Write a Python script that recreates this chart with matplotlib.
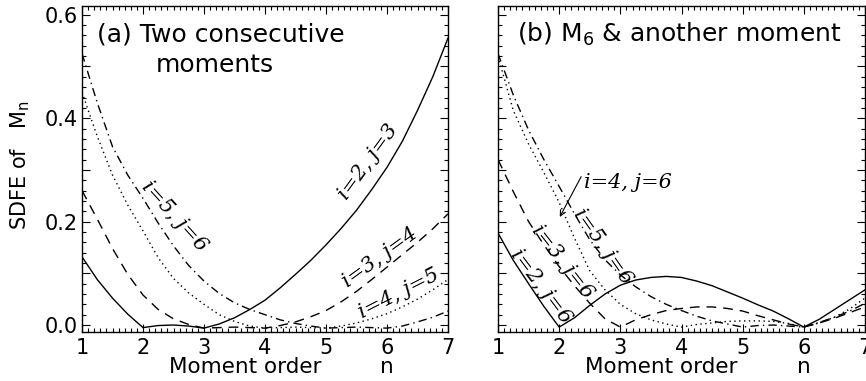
import matplotlib
matplotlib.use("Agg")
import matplotlib.pyplot as plt
from matplotlib.ticker import MultipleLocator

# --- data ---
n_order = [1, 1.25, 1.5, 1.75, 2, 2.25, 2.5, 2.75, 3, 3.25, 3.5, 3.75, 4,
           4.25, 4.5, 4.75, 5, 5.25, 5.5, 5.75, 6, 6.25, 6.5, 6.75, 7]

# panel (a): two consecutive moments
a_i2_j3 = [0.132, 0.088, 0.052, 0.021, -0.005, -0.001, 0.000, -0.002, -0.006, 0.002,
           0.014, 0.030, 0.048, 0.072, 0.098, 0.125, 0.155, 0.187, 0.222, 0.262,
           0.305, 0.355, 0.415, 0.480, 0.555]
a_i3_j4 = [0.260, 0.205, 0.148, 0.098, 0.058, 0.030, 0.012, 0.001, -0.006, -0.005,
           -0.004, -0.005, -0.006, -0.001, 0.006, 0.016, 0.028, 0.045, 0.065, 0.088,
           0.112, 0.136, 0.160, 0.186, 0.215]
a_i4_j5 = [0.450, 0.365, 0.290, 0.232, 0.182, 0.130, 0.090, 0.062, 0.040, 0.020,
           0.007, -0.002, -0.006, -0.005, -0.004, -0.005, -0.006, -0.002, 0.004, 0.012,
           0.022, 0.035, 0.050, 0.068, 0.088]
a_i5_j6 = [0.525, 0.430, 0.345, 0.290, 0.245, 0.197, 0.153, 0.115, 0.085, 0.061,
           0.043, 0.030, 0.020, 0.010, 0.003, -0.002, -0.006, -0.005, -0.004, -0.005,
           -0.006, -0.002, 0.006, 0.015, 0.027]

# panel (b): M6 and another moment
b_i2_j6 = [0.178, 0.125, 0.080, 0.036, -0.004, 0.014, 0.038, 0.060, 0.077, 0.087,
           0.092, 0.094, 0.092, 0.085, 0.076, 0.064, 0.052, 0.039, 0.027, 0.012,
           -0.004, 0.011, 0.030, 0.049, 0.068]
b_i3_j6 = [0.320, 0.258, 0.200, 0.155, 0.113, 0.076, 0.042, 0.012, -0.004, 0.010,
           0.020, 0.028, 0.032, 0.035, 0.035, 0.032, 0.027, 0.018, 0.010, 0.002,
           -0.004, 0.004, 0.013, 0.024, 0.035]
b_i4_j6 = [0.520, 0.415, 0.350, 0.295, 0.237, 0.168, 0.105, 0.068, 0.040, 0.022,
           0.010, 0.002, -0.004, 0.001, 0.004, 0.007, 0.008, 0.008, 0.007, 0.003,
           -0.004, 0.004, 0.015, 0.031, 0.052]
b_i5_j6 = [0.525, 0.445, 0.377, 0.320, 0.268, 0.215, 0.165, 0.126, 0.097, 0.074,
           0.055, 0.040, 0.028, 0.017, 0.008, 0.002, -0.004, -0.001, 0.000, -0.002,
           -0.004, 0.005, 0.015, 0.027, 0.042]

x_ticks = [1, 2, 3, 4, 5, 6, 7]
x_labels = ["1", "2", "3", "4", "5", "6", "7"]
y_ticks = [0.0, 0.1, 0.2, 0.3, 0.4, 0.5, 0.6]
y_labels = ["0.0", "", "0.2", "", "0.4", "", "0.6"]

# line styles (IDL-like)
SOLID = "-"
DASHED = (0, (7, 5))
DOTTED = (0, (1, 2.5))
DASHDOT = (0, (6, 3, 1, 3))

plt.rcParams["font.family"] = "DejaVu Sans"
plt.rcParams["mathtext.fontset"] = "dejavusans"

fig = plt.figure(figsize=(8.66, 3.81), dpi=100)
W, H = 866, 381
ax1 = fig.add_axes([82 / W, (H - 332) / H, 366 / W, 326 / H])
ax2 = fig.add_axes([498 / W, (H - 332) / H, 367 / W, 326 / H])


def style_axes(ax, show_ylabels):
    ax.set_xlim(1, 7)
    ax.set_ylim(-0.0135, 0.617)
    ax.set_xticks(x_ticks, labels=x_labels)
    ax.set_yticks(y_ticks, labels=y_labels if show_ylabels else [""] * len(y_ticks))
    ax.xaxis.set_minor_locator(MultipleLocator(0.1))
    ax.yaxis.set_minor_locator(MultipleLocator(0.02))
    ax.tick_params(which="both", direction="in", top=True, right=True,
                   width=0.8, labelsize=15)
    ax.tick_params(which="major", length=6)
    ax.tick_params(which="minor", length=3)
    ax.tick_params(axis="x", pad=4)
    ax.tick_params(axis="y", pad=3)
    for sp in ax.spines.values():
        sp.set_linewidth(1.0)
    ax.annotate("Moment order", xy=(3.67, 0), xycoords=("data", "axes fraction"),
                xytext=(0, -18), textcoords="offset points",
                ha="center", va="top", fontsize=15.5)
    ax.annotate("n", xy=(6.0, 0), xycoords=("data", "axes fraction"),
                xytext=(0, -18), textcoords="offset points",
                ha="center", va="top", fontsize=15.5)


# --- panel (a) ---
ax1.plot(n_order, a_i2_j3, color="black", lw=1.0, ls=SOLID)
ax1.plot(n_order, a_i3_j4, color="black", lw=1.0, ls=DASHED)
ax1.plot(n_order, a_i4_j5, color="black", lw=1.0, ls=DOTTED)
ax1.plot(n_order, a_i5_j6, color="black", lw=1.0, ls=DASHDOT)
style_axes(ax1, True)

ax1.text(0.041, 0.89, "(a) Two consecutive", transform=ax1.transAxes,
         fontsize=18, va="baseline", ha="left")
ax1.text(0.202, 0.798, "moments", transform=ax1.transAxes,
         fontsize=18, va="baseline", ha="left")

lbl = dict(fontsize=15, family="DejaVu Serif", style="italic",
           ha="center", va="center", rotation_mode="anchor")
ax1.text(5.69, 0.315, "i=2, j=3", rotation=54, **lbl)
ax1.text(5.89, 0.130, "i=3, j=4", rotation=36, **lbl)
ax1.text(6.20, 0.060, "i=4, j=5", rotation=27, **lbl)
ax1.text(2.51, 0.211, "i=5, j=6", rotation=-48, **lbl)

# --- panel (b) ---
ax2.plot(n_order, b_i2_j6, color="black", lw=1.0, ls=SOLID)
ax2.plot(n_order, b_i3_j6, color="black", lw=1.0, ls=DASHED)
ax2.plot(n_order, b_i4_j6, color="black", lw=1.0, ls=DOTTED)
ax2.plot(n_order, b_i5_j6, color="black", lw=1.0, ls=DASHDOT)
style_axes(ax2, False)

ax2.text(0.052, 0.89, r"(b) $\mathregular{M_6}$ & another moment",
         transform=ax2.transAxes, fontsize=18, va="baseline", ha="left")

ax2.text(3.13, 0.275, "i=4, j=6", rotation=0, **lbl)
ax2.annotate("", xy=(2.01, 0.209), xytext=(2.36, 0.287),
             arrowprops=dict(arrowstyle="->", lw=0.8, color="black",
                             shrinkA=0, shrinkB=0))
ax2.text(2.72, 0.151, "i=5, j=6", rotation=-55, **lbl)
ax2.text(2.05, 0.122, "i=3, j=6", rotation=-52, **lbl)
ax2.text(1.70, 0.075, "i=2, j=6", rotation=-53, **lbl)

fig.text(20 / W, (H - 165) / H, r"SDFE of   $\mathregular{M_n}$", rotation=90,
         ha="center", va="center", fontsize=15)

fig.savefig("out.png", dpi=100)
